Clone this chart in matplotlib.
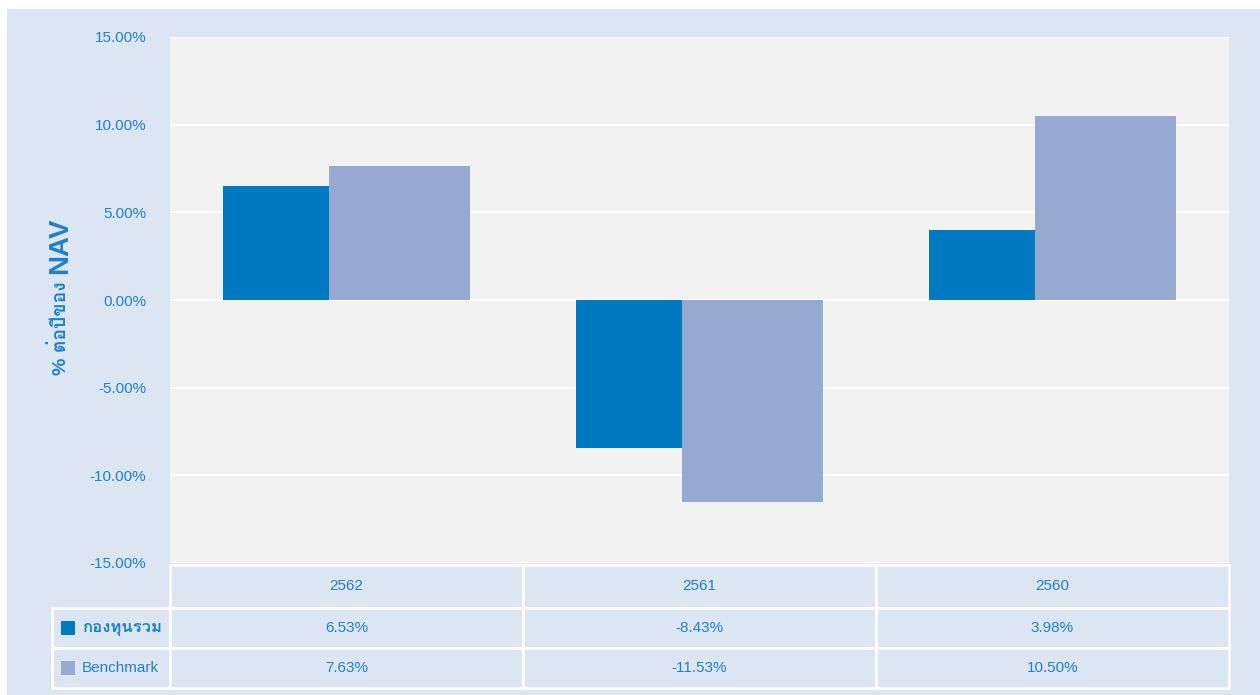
import matplotlib
matplotlib.use('Agg')
import matplotlib.pyplot as plt
from matplotlib import font_manager
from matplotlib.ft2font import FT2Font
from matplotlib.patches import Rectangle

years = ['2562', '2561', '2560']
fund = [6.53, -8.43, 3.98]
bench = [7.63, -11.53, 10.50]
series_names = ['กองทุนรวม', 'Benchmark']
y_ticks = [15, 10, 5, 0, -5, -10, -15]
y_title_a = '% ต่อปีของ'
y_title_b = 'NAV'

fund_color = '#0079c1'
bench_color = '#95a9d1'
text_color = '#1f80c8'
panel_color = '#dce6f2'

# find a font that can draw Thai
thai_fonts = []
for f in font_manager.fontManager.ttflist:
    try:
        if ord('ก') in FT2Font(f.fname).get_charmap():
            if f.name not in thai_fonts:
                thai_fonts.append(f.name)
    except Exception:
        pass
families = ['Liberation Sans'] + thai_fonts + ['DejaVu Sans']
plt.rcParams['font.family'] = families

W, H = 1260, 695
fig = plt.figure(figsize=(W / 100, H / 100), dpi=100)
fig.patch.set_facecolor('white')

# light blue panel behind everything
fig.patches.append(Rectangle((7 / W, 0), 1 - 7 / W, 1 - 9 / H, transform=fig.transFigure,
                             facecolor=panel_color, edgecolor='none', zorder=-10))

L, R, T, B = 170, 1229, 37, 563
ax = fig.add_axes([L / W, 1 - B / H, (R - L) / W, (B - T) / H])
ax.set_facecolor('#f2f2f2')
for s in ax.spines.values():
    s.set_visible(False)

x = range(len(years))
off = 0.15
bw = 0.4
ax.bar([i - off for i in x], fund, bw, color=fund_color, zorder=3)
ax.bar([i + off for i in x], bench, bw, color=bench_color, zorder=4)

ax.set_xlim(-0.5, len(years) - 0.5)
ax.set_ylim(-15, 15)
ax.set_yticks(y_ticks)
ax.set_yticklabels(['%.2f%%' % v for v in y_ticks])
ax.set_xticks([])
ax.tick_params(axis='y', length=0, pad=17, labelsize=11, labelcolor=text_color)
ax.grid(axis='y', color='white', lw=1.5, zorder=1)
ax.set_axisbelow(True)

# y title in two parts: Thai part smaller, "NAV" big and bold
fig.text(60 / W, 1 - 281 / H, y_title_a, rotation=90, ha='center', va='top',
         fontsize=14, fontweight='bold', color=text_color)
fig.text(60 / W, 1 - 274 / H, y_title_b, rotation=90, ha='center', va='bottom',
         fontsize=20, fontweight='bold', color=text_color)

# data table under the chart
TL, TT, TB = 52, 565, 688
ax_t = fig.add_axes([TL / W, 1 - TB / H, (R - TL) / W, (TB - TT) / H])
ax_t.axis('off')
lab_w = (L - TL) / ((R - L) / len(years))
ax_t.set_xlim(-0.5 - lab_w, len(years) - 0.5)
row_edges = [0, 43, 83, 123]
ax_t.set_ylim(row_edges[-1], 0)

cell = dict(facecolor=panel_color, edgecolor='white', lw=1.8, clip_on=False)
h0 = row_edges[1] - row_edges[0]
for i, yr in enumerate(years):
    ax_t.add_patch(Rectangle((i - 0.5, 0), 1, h0, **cell))
    ax_t.text(i, h0 / 2, yr, ha='center', va='center', fontsize=11, color=text_color)

rows = [fund, bench]
colors = [fund_color, bench_color]
for r, (vals, name, c) in enumerate(zip(rows, series_names, colors), start=1):
    y0 = row_edges[r]
    h = row_edges[r + 1] - y0
    ym = y0 + h / 2
    ax_t.add_patch(Rectangle((-0.5 - lab_w, y0), lab_w, h, **cell))
    ax_t.add_patch(Rectangle((-0.5 - lab_w + 0.026, ym - 7), 0.039, 14,
                             facecolor=c, edgecolor='none'))
    if r == 1:
        ax_t.text(-0.5 - lab_w + 0.084, ym, name, ha='left', va='center',
                  fontsize=12, fontweight='bold', color=text_color)
    else:
        ax_t.text(-0.5 - lab_w + 0.084, ym, name, ha='left', va='center',
                  fontsize=11, color=text_color)
    for i, v in enumerate(vals):
        ax_t.add_patch(Rectangle((i - 0.5, y0), 1, h, **cell))
        ax_t.text(i, ym, '%.2f%%' % v, ha='center', va='center',
                  fontsize=11, color=text_color)

fig.savefig('out.png', dpi=100)
